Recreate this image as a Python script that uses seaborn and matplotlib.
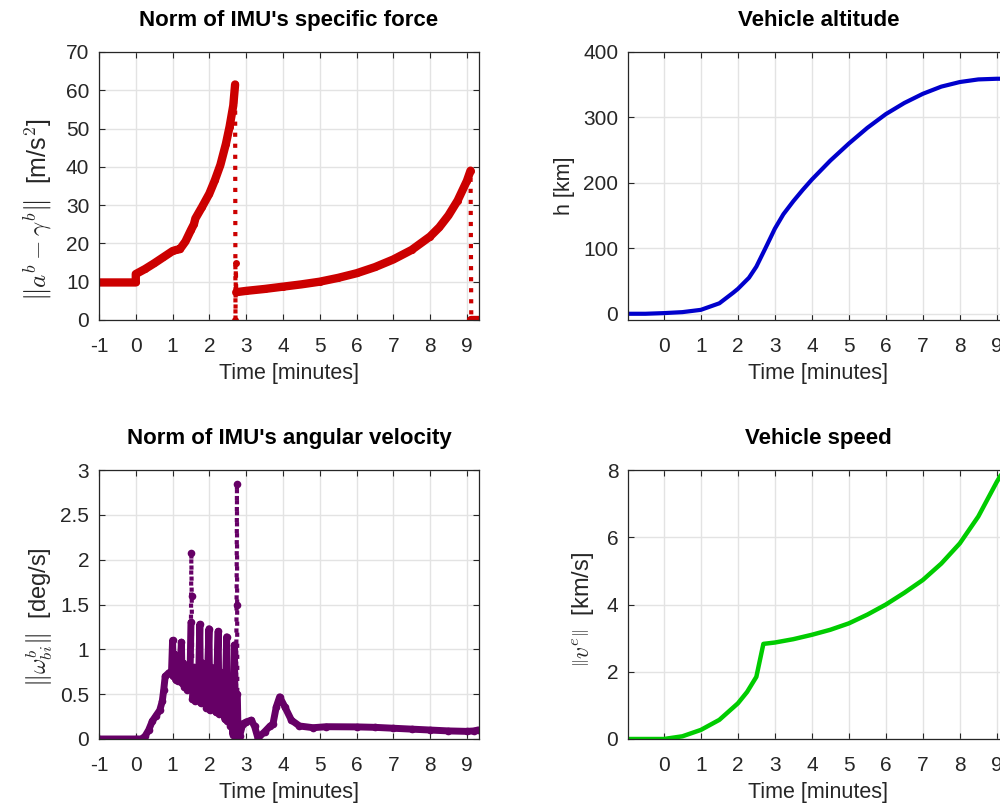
import numpy as np
import pandas as pd
import matplotlib
matplotlib.use("Agg")
import matplotlib.pyplot as plt
import seaborn as sns

# ---------------- data ----------------
t_force = [-1.0, -0.5, 0.0, 0.0, 0.25, 0.5, 0.75, 1.0, 1.1, 1.2, 1.35, 1.5, 1.58, 1.62,
           1.8, 2.0, 2.15, 2.3, 2.45, 2.55, 2.65, 2.70, 2.71, 2.72, 2.73, 2.76, 3.0, 3.5,
           4.0, 4.5, 5.0, 5.5, 6.0, 6.5, 7.0, 7.5, 8.0, 8.25, 8.5, 8.75, 9.0, 9.1, 9.12,
           9.2, 9.33]
force = [9.8, 9.8, 9.8, 12.0, 13.3, 14.8, 16.4, 18.0, 18.3, 18.5, 20.5, 23.5, 25.0, 26.5,
         29.5, 33.0, 36.5, 40.5, 46.0, 50.5, 56.0, 61.5, 0.0, 14.8, 7.2, 7.3, 7.6, 8.1,
         8.7, 9.3, 10.0, 11.0, 12.2, 13.8, 15.8, 18.3, 21.8, 24.2, 27.3, 31.2, 36.3, 39.0, 0.0,
         0.0, 0.0]

t_omega = [-1.0, 0.0, 0.15, 0.25, 0.35, 0.45, 0.55, 0.65, 0.72, 0.76, 0.80, 0.9, 0.97,
           1.00, 1.02, 1.05, 1.08, 1.12, 1.16, 1.20, 1.24, 1.26, 1.29, 1.32, 1.36, 1.40,
           1.44, 1.47, 1.50, 1.51, 1.52, 1.54, 1.58, 1.62, 1.66, 1.70, 1.74, 1.76, 1.80,
           1.84, 1.88, 1.92, 1.99, 2.01, 2.05, 2.09, 2.13, 2.17, 2.24, 2.26, 2.30, 2.34,
           2.38, 2.42, 2.47, 2.49, 2.53, 2.57, 2.61, 2.64, 2.68, 2.70, 2.72, 2.74, 2.75,
           2.76, 2.78, 2.82, 2.91, 3.0, 3.14, 3.23, 3.32, 3.5, 3.64, 3.73, 3.82, 3.91, 4.05,
           4.23, 4.45, 4.82, 5.18, 6.0, 6.5, 7.0, 7.5, 8.0, 8.5, 9.0, 9.2, 9.3]
omega = [0.0, 0.0, 0.0, 0.03, 0.10, 0.20, 0.26, 0.32, 0.42, 0.55, 0.70, 0.74, 0.73,
         1.10, 0.70, 0.95, 0.66, 0.80, 0.65, 0.78, 1.08, 0.62, 0.85, 0.58, 0.78, 0.55,
         0.72, 0.60, 1.30, 2.07, 1.60, 0.45, 0.80, 0.42, 0.70, 0.50, 1.28, 0.40, 0.85,
         0.45, 0.75, 0.35, 1.23, 0.32, 0.80, 0.40, 0.70, 0.30, 1.20, 0.28, 0.75, 0.35,
         0.65, 0.22, 1.14, 0.20, 0.70, 0.15, 0.55, 0.05, 1.05, 0.30, 0.02, 1.50, 2.85,
         0.50, 0.05, 0.03, 0.17, 0.19, 0.21, 0.14, 0.01, 0.08, 0.14, 0.17, 0.36, 0.47, 0.36,
         0.21, 0.145, 0.126, 0.137, 0.135, 0.13, 0.12, 0.11, 0.10, 0.09, 0.085, 0.09, 0.10]

t_alt = [-0.97, -0.5, 0.0, 0.5, 1.0, 1.5, 1.87, 2.0, 2.3, 2.5, 2.77, 3.0, 3.23, 3.5,
         3.75, 4.0, 4.5, 5.0, 5.5, 6.0, 6.5, 7.0, 7.5, 8.0, 8.5, 9.0, 9.33]
alt = [0.0, 0.0, 1.0, 2.5, 6.0, 16.0, 32.0, 38.0, 55.0, 72.0, 103.0, 130.0, 152.0, 172.0,
       189.0, 205.0, 234.0, 260.0, 284.0, 305.0, 322.0, 336.0, 347.0, 354.0, 358.0, 359.0,
       359.0]

t_speed = [-0.97, -0.5, 0.0, 0.5, 1.0, 1.5, 2.0, 2.25, 2.5, 2.69, 3.0, 3.5, 4.0, 4.5,
           5.0, 5.5, 6.0, 6.5, 7.0, 7.5, 8.0, 8.5, 9.0, 9.33]
speed = [0.0, 0.0, 0.0, 0.08, 0.27, 0.57, 1.06, 1.40, 1.85, 2.83, 2.87, 2.97, 3.10, 3.25,
         3.44, 3.70, 4.00, 4.35, 4.73, 5.22, 5.82, 6.62, 7.65, 8.25]

# ---------------- style ----------------
sns.set_theme(style="white")
plt.rcParams['font.family'] = ['Liberation Sans', 'DejaVu Sans']
plt.rcParams['mathtext.fontset'] = 'cm'

fig = plt.figure(figsize=(10.0, 8.05), dpi=100)
positions = {
    'force': [0.099, 0.6025, 0.380, 0.333],
    'alt':   [0.628, 0.6025, 0.381, 0.333],
    'omega': [0.099, 0.082, 0.380, 0.334],
    'speed': [0.628, 0.082, 0.381, 0.334],
}
axes = {k: fig.add_axes(v) for k, v in positions.items()}

TXT = '#262626'


def style_axis(ax, title, ylabel, xlim, ylim, yticks, xticks, ylsize=17, ylpos=None):
    ax.set_xlim(*xlim)
    ax.set_ylim(*ylim)
    ax.set_xticks(xticks)
    ax.set_xticklabels([f"{v:g}" for v in xticks])
    ax.set_yticks(yticks)
    ax.set_yticklabels([f"{v:g}" for v in yticks])
    ax.grid(True, color='#e3e3e3', linewidth=1.0)
    ax.set_axisbelow(True)
    for s in ax.spines.values():
        s.set_visible(True)
        s.set_color(TXT)
        s.set_linewidth(0.9)
    ax.tick_params(direction='in', length=4, width=0.8, color=TXT, labelcolor=TXT,
                   labelsize=15, top=True, right=True, bottom=True, left=True)
    ax.tick_params(axis='x', pad=12)
    ax.tick_params(axis='y', pad=7)
    ax.set_title(title, fontsize=16, fontweight='bold', color='black', pad=19)
    ax.set_xlabel('Time [minutes]', fontsize=15.5, color=TXT, labelpad=5)
    ax.set_ylabel(ylabel, fontsize=ylsize, color=TXT)
    if ylpos is not None:
        ax.yaxis.set_label_coords(*ylpos)


def runs(values, limit_fn):
    """contiguous index runs where consecutive segment is 'smooth'"""
    out, cur = [], [0]
    for i in range(1, len(values)):
        if limit_fn(values[i - 1], values[i]):
            cur.append(i)
        else:
            if len(cur) > 1:
                out.append(cur)
            cur = [i]
    if len(cur) > 1:
        out.append(cur)
    return out


# ---- specific force ----
ax = axes['force']
red = '#cc0000'
df = pd.DataFrame({'t': t_force, 'v': force})
sns.lineplot(data=df, x='t', y='v', ax=ax, sort=False, estimator=None, color=red,
             linestyle=':', linewidth=3, marker='o', markersize=5, markeredgewidth=0)
for r in runs(force, lambda a, b: abs(a - b) < 7):
    sub = df.iloc[r]
    sns.lineplot(data=sub, x='t', y='v', ax=ax, sort=False, estimator=None, color=red,
                 linewidth=6, solid_capstyle='round')
style_axis(ax, "Norm of IMU's specific force",
           r'$\left\|a^b-\gamma^b\right\|$  [m/s$^2$]',
           (-1, 9.33), (0, 70), list(range(0, 71, 10)), list(range(-1, 10)),
           ylsize=18, ylpos=(-0.115, 0.41))

# ---- altitude ----
ax = axes['alt']
sns.lineplot(x=t_alt, y=alt, ax=ax, sort=False, estimator=None, color='#0000cc',
             linewidth=3)
style_axis(ax, 'Vehicle altitude', 'h [km]', (-0.97, 9.33), (-9.5, 400),
           [0, 100, 200, 300, 400], list(range(0, 10)), ylsize=15.5, ylpos=(-0.14, 0.5))

# ---- angular velocity ----
ax = axes['omega']
purple = '#660066'
dw = pd.DataFrame({'t': t_omega, 'v': omega})
sns.lineplot(data=dw, x='t', y='v', ax=ax, sort=False, estimator=None, color=purple,
             linestyle=':', linewidth=3, marker='o', markersize=5.5, markeredgewidth=0)
for r in runs(omega, lambda a, b: a < 1.4 and b < 1.4):
    sub = dw.iloc[r]
    sns.lineplot(data=sub, x='t', y='v', ax=ax, sort=False, estimator=None, color=purple,
                 linewidth=5, solid_capstyle='round', solid_joinstyle='round')
style_axis(ax, "Norm of IMU's angular velocity",
           r'$\left\|\omega^b_{bi}\right\|$  [deg/s]',
           (-1, 9.33), (0, 3), [0, 0.5, 1, 1.5, 2, 2.5, 3], list(range(-1, 10)),
           ylsize=17, ylpos=(-0.115, 0.455))

# ---- speed ----
ax = axes['speed']
sns.lineplot(x=t_speed, y=speed, ax=ax, sort=False, estimator=None, color='#00cc00',
             linewidth=3.2)
style_axis(ax, 'Vehicle speed', r'$\left\|v^e\right\|$  [km/s]', (-0.97, 9.33), (0, 8),
           [0, 2, 4, 6, 8], list(range(0, 10)), ylsize=17, ylpos=(-0.085, 0.48))

fig.savefig('out.png', dpi=100)
